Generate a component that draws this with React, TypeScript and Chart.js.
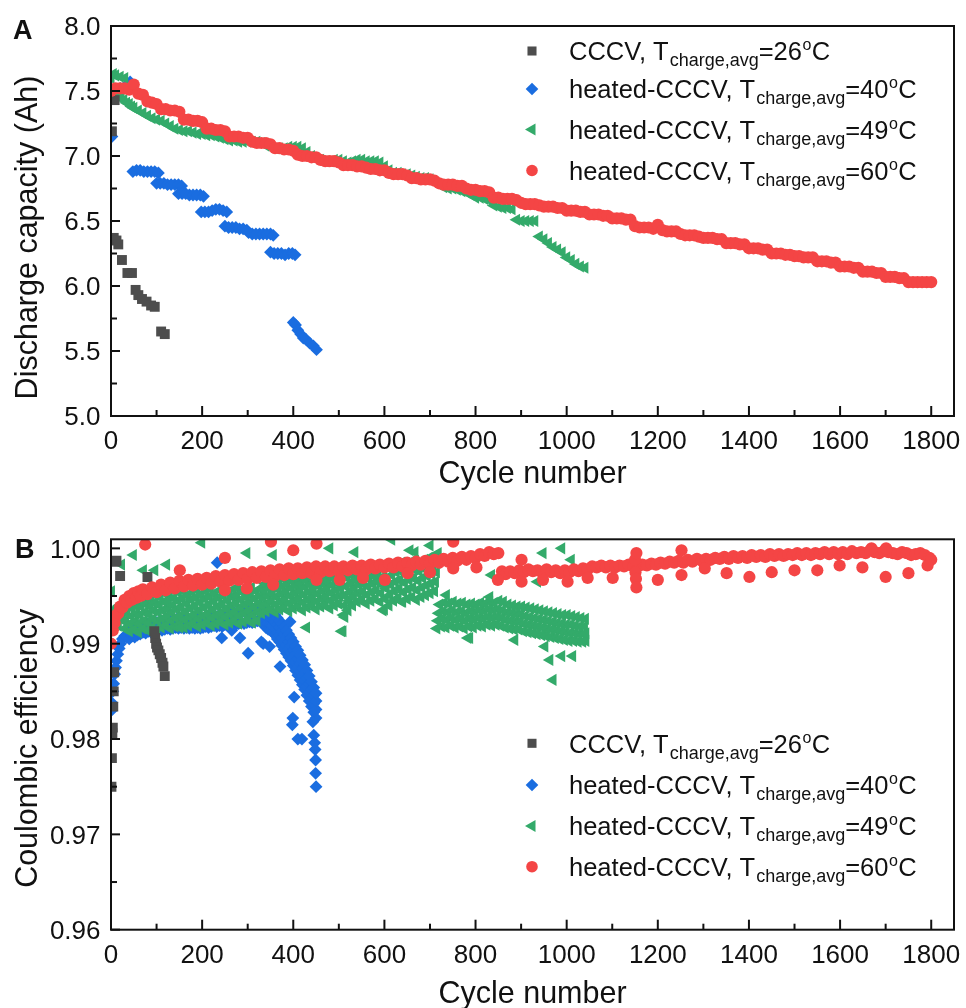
import React, { useEffect, useRef } from 'react';
import { Chart, registerables } from 'chart.js';

Chart.register(...registerables);

type Pt = [number, number];

const FONT = '"Liberation Sans", Arial, Helvetica, sans-serif';
const INK = '#111111';

// ---------- series meta ----------
const SERIES_COLORS = ['#4d4d4d', '#1a6de0', '#33aa6a', '#f44545'];
const SERIES_STYLES = ['rect', 'rectRot', 'triangle', 'circle'];
const SERIES_NAMES = ['CCCV, T', 'heated-CCCV, T', 'heated-CCCV, T', 'heated-CCCV, T'];
const SERIES_TEMPS = ['26', '40', '49', '60'];
const SUBSCRIPT = 'charge,avg';
const MARKER_R = [7, 6.4, 7, 6.1];
const LEGEND_R = [6.4, 6.3, 7, 5.8];
const MARKER_ROT = [0, 0, -90, 0];
const DRAW_ORDER = [1, 3, 2, 0];

// ---------- axes ----------
const cycleTicks = [0, 100, 200, 300, 400, 500, 600, 700, 800, 900, 1000, 1100, 1200, 1300, 1400, 1500, 1600, 1700, 1800];
const capTicks = [5, 5.25, 5.5, 5.75, 6, 6.25, 6.5, 6.75, 7, 7.25, 7.5, 7.75, 8];
const ceTicks = [0.96, 0.965, 0.97, 0.975, 0.98, 0.985, 0.99, 0.995, 1.0];
const X_TITLE = 'Cycle number';
const Y_TITLE_A = 'Discharge capacity (Ah)';
const Y_TITLE_B = 'Coulombic efficiency';

// ---------- Panel A: discharge capacity ----------
const capCCCV26: Pt[] = [
  [2, 7.19], [8, 7.43], [6, 6.37], [12, 6.35], [16, 6.32], [24, 6.20], [36, 6.10], [46, 6.10],
  [54, 5.97], [60, 5.93], [68, 5.90], [78, 5.88], [88, 5.85], [96, 5.84], [110, 5.65], [118, 5.63],
];

const capHeated40: Pt[] = [
  [0, 7.47], [2, 7.15], [20, 7.52], [35, 7.55], [42, 7.57],
  [48, 6.88], [56, 6.89], [64, 6.89], [72, 6.88], [80, 6.88], [88, 6.88], [96, 6.88], [104, 6.87],
  [100, 6.79], [108, 6.79], [116, 6.79], [124, 6.78], [132, 6.78], [140, 6.78], [148, 6.78], [155, 6.77],
  [148, 6.71], [156, 6.71], [164, 6.71], [172, 6.70], [180, 6.70], [188, 6.70], [196, 6.70], [203, 6.69],
  [198, 6.57], [206, 6.57], [214, 6.57], [222, 6.58], [230, 6.59], [238, 6.59], [246, 6.58], [254, 6.57],
  [250, 6.46], [258, 6.45], [266, 6.45], [274, 6.45], [282, 6.44], [290, 6.44], [298, 6.43],
  [302, 6.41], [310, 6.40], [318, 6.40], [326, 6.40], [334, 6.40], [342, 6.40], [350, 6.40], [356, 6.39],
  [350, 6.26], [358, 6.25], [366, 6.25], [374, 6.25], [382, 6.24], [390, 6.25], [398, 6.25], [404, 6.24],
  [400, 5.72], [405, 5.70], [410, 5.66], [416, 5.63], [422, 5.60], [428, 5.59], [436, 5.56], [444, 5.54], [451, 5.51],
];

const capHeated49: Pt[] = [
  [0, 7.60], [5, 7.63], [10, 7.62], [20, 7.61], [30, 7.60], [10, 7.50], [16, 7.47], [22, 7.45], [28, 7.43], [34, 7.41],
  [40, 7.40], [45, 7.38], [50, 7.37], [60, 7.35], [70, 7.33], [80, 7.31], [90, 7.29], [100, 7.28], [110, 7.27],
  [120, 7.25], [130, 7.23], [140, 7.21], [150, 7.20], [160, 7.19], [170, 7.19], [180, 7.18], [190, 7.17],
  [200, 7.17], [210, 7.16], [220, 7.16], [230, 7.15], [240, 7.14], [250, 7.13], [260, 7.12], [270, 7.12],
  [280, 7.11], [290, 7.11], [300, 7.11], [310, 7.11], [320, 7.11], [330, 7.10], [340, 7.08], [350, 7.07],
  [360, 7.06], [370, 7.06], [380, 7.06], [390, 7.07], [400, 7.07], [410, 7.07], [420, 7.06], [430, 7.03],
  [440, 7.00], [450, 6.98], [460, 6.97], [470, 6.96], [480, 6.96], [490, 6.97], [500, 6.97], [510, 6.96],
  [520, 6.95], [530, 6.96], [540, 6.97], [550, 6.97], [560, 6.96], [570, 6.96], [580, 6.96], [590, 6.95],
  [600, 6.92], [610, 6.89], [620, 6.87], [630, 6.87], [640, 6.86], [650, 6.86], [660, 6.85], [670, 6.84],
  [680, 6.83], [690, 6.83], [700, 6.82], [710, 6.80], [720, 6.78], [730, 6.76], [740, 6.75], [750, 6.75],
  [760, 6.74], [770, 6.73], [780, 6.72], [790, 6.70], [800, 6.68], [810, 6.68], [820, 6.67], [830, 6.66],
  [840, 6.62], [850, 6.61], [860, 6.60], [870, 6.60], [880, 6.59], [890, 6.51], [900, 6.50], [910, 6.50],
  [920, 6.50], [930, 6.50], [940, 6.38], [950, 6.36], [960, 6.33], [970, 6.30], [980, 6.28], [990, 6.26],
  [1000, 6.22], [1010, 6.20], [1020, 6.17], [1030, 6.15], [1040, 6.14],
];

const capHeated60: Pt[] = [
  [0, 7.50], [10, 7.52], [20, 7.52], [30, 7.52], [40, 7.51], [50, 7.55], [60, 7.48], [70, 7.47], [80, 7.42],
  [90, 7.41], [100, 7.40], [110, 7.36], [120, 7.36], [130, 7.35], [140, 7.35], [150, 7.34], [160, 7.28],
  [170, 7.28], [180, 7.27], [190, 7.27], [200, 7.26], [210, 7.21], [220, 7.21], [230, 7.20], [240, 7.20],
  [250, 7.19], [260, 7.15], [270, 7.15], [280, 7.15], [290, 7.14], [300, 7.14], [310, 7.11], [320, 7.10],
  [330, 7.10], [340, 7.10], [350, 7.09], [360, 7.06], [370, 7.06], [380, 7.05], [390, 7.05], [400, 7.04],
  [410, 7.01], [420, 7.00], [430, 7.00], [440, 6.99], [450, 6.99], [460, 6.97], [470, 6.96], [480, 6.96],
  [490, 6.96], [500, 6.95], [510, 6.93], [520, 6.93], [530, 6.93], [540, 6.92], [550, 6.92], [560, 6.91],
  [570, 6.90], [580, 6.90], [590, 6.89], [600, 6.89], [610, 6.87], [620, 6.86], [630, 6.86], [640, 6.86],
  [650, 6.85], [660, 6.83], [670, 6.83], [680, 6.82], [690, 6.82], [700, 6.82], [710, 6.81], [720, 6.79],
  [730, 6.78], [740, 6.78], [750, 6.78], [760, 6.77], [770, 6.77], [780, 6.75], [790, 6.74], [800, 6.74],
  [810, 6.73], [820, 6.73], [830, 6.72], [840, 6.68], [850, 6.68], [860, 6.67], [870, 6.67], [880, 6.67],
  [890, 6.66], [900, 6.64], [910, 6.63], [920, 6.63], [930, 6.63], [940, 6.62], [950, 6.61], [960, 6.61],
  [970, 6.61], [980, 6.60], [990, 6.60], [1000, 6.58], [1010, 6.58], [1020, 6.58], [1030, 6.57], [1040, 6.57],
  [1050, 6.55], [1060, 6.55], [1070, 6.55], [1080, 6.54], [1090, 6.54], [1100, 6.52], [1110, 6.52], [1120, 6.52],
  [1130, 6.51], [1140, 6.51], [1150, 6.46], [1160, 6.45], [1170, 6.45], [1180, 6.45], [1190, 6.44], [1200, 6.47],
  [1210, 6.43], [1220, 6.42], [1230, 6.42], [1240, 6.42], [1250, 6.40], [1260, 6.39], [1270, 6.39], [1280, 6.39],
  [1290, 6.38], [1300, 6.37], [1310, 6.37], [1320, 6.37], [1330, 6.36], [1340, 6.36], [1350, 6.33], [1360, 6.33],
  [1370, 6.33], [1380, 6.32], [1390, 6.32], [1400, 6.29], [1410, 6.29], [1420, 6.29], [1430, 6.28], [1440, 6.28],
  [1450, 6.25], [1460, 6.25], [1470, 6.25], [1480, 6.24], [1490, 6.24], [1500, 6.23], [1510, 6.23], [1520, 6.22],
  [1530, 6.22], [1540, 6.22], [1550, 6.19], [1560, 6.19], [1570, 6.19], [1580, 6.18], [1590, 6.18], [1600, 6.15],
  [1610, 6.15], [1620, 6.15], [1630, 6.14], [1640, 6.14], [1650, 6.11], [1660, 6.11], [1670, 6.11], [1680, 6.10],
  [1690, 6.10], [1700, 6.07], [1710, 6.07], [1720, 6.07], [1730, 6.06], [1740, 6.06], [1750, 6.03], [1760, 6.03],
  [1770, 6.03], [1780, 6.03], [1790, 6.03], [1800, 6.03],
];

// ---------- Panel B: coulombic efficiency ----------
const ceCCCV26: Pt[] = [
  [1, 0.9750], [2, 0.9780], [3, 0.9806], [4, 0.9812], [5, 0.9834], [6, 0.9850], [7, 0.9870],
  [9, 0.9986], [12, 0.9987], [20, 0.9971], [80, 0.9970],
  [95, 0.9913], [97, 0.9906], [99, 0.9900], [101, 0.9896], [104, 0.9893], [107, 0.9889], [110, 0.9885],
  [113, 0.9880], [115, 0.9876], [118, 0.9866],
];

const ceHeated40Band: Pt[] = [
  [1, 0.9830], [2, 0.9838], [4, 0.9850], [6, 0.9858], [8, 0.9868], [10, 0.9875], [12, 0.9882], [15, 0.9889],
  [18, 0.9895], [21, 0.9900], [25, 0.9905], [30, 0.9908],
  [34, 0.9907], [37, 0.9917], [40, 0.9905], [43, 0.9916], [46, 0.9908], [49, 0.9918], [52, 0.9907], [55, 0.9917],
  [58, 0.9909], [61, 0.9919], [64, 0.9910], [67, 0.9920], [70, 0.9912], [73, 0.9921], [76, 0.9911], [79, 0.9921],
  [82, 0.9913], [85, 0.9922], [88, 0.9912], [91, 0.9921], [94, 0.9914], [97, 0.9923], [100, 0.9913], [103, 0.9922],
  [106, 0.9915], [109, 0.9924], [112, 0.9914], [115, 0.9923], [118, 0.9915], [121, 0.9924], [124, 0.9916], [127, 0.9925],
  [130, 0.9915], [133, 0.9924], [136, 0.9916], [139, 0.9925], [142, 0.9917], [145, 0.9926], [148, 0.9916], [151, 0.9925],
  [154, 0.9917], [157, 0.9926], [160, 0.9916], [163, 0.9925], [166, 0.9917], [169, 0.9926], [172, 0.9916], [175, 0.9925],
  [178, 0.9917], [181, 0.9926], [184, 0.9916], [187, 0.9926], [190, 0.9917], [193, 0.9927], [196, 0.9916], [199, 0.9926],
  [202, 0.9917], [205, 0.9927], [208, 0.9918], [211, 0.9928], [214, 0.9917], [217, 0.9927], [220, 0.9918], [223, 0.9928],
  [226, 0.9919], [229, 0.9929], [232, 0.9918], [235, 0.9929], [238, 0.9919], [241, 0.9930], [244, 0.9918], [247, 0.9930],
  [250, 0.9920], [253, 0.9931], [256, 0.9919], [259, 0.9931], [262, 0.9920], [265, 0.9932], [268, 0.9921], [271, 0.9932],
  [274, 0.9920], [277, 0.9933], [280, 0.9921], [283, 0.9933], [286, 0.9922], [289, 0.9934], [292, 0.9921], [295, 0.9934],
  [298, 0.9922], [301, 0.9935], [304, 0.9923], [307, 0.9935], [310, 0.9922], [313, 0.9936], [316, 0.9923], [319, 0.9937],
  [322, 0.9924], [325, 0.9938], [328, 0.9923], [331, 0.9938], [334, 0.9922], [337, 0.9937],
];

const ceHeated40Fall: Pt[] = [
  [340, 0.9917], [340, 0.9923], [340, 0.9930], [340, 0.9936], [345, 0.9915], [345, 0.9922], [345, 0.9928], [345, 0.9935],
  [350, 0.9914], [350, 0.9920], [350, 0.9927], [350, 0.9933], [355, 0.9912], [355, 0.9919], [355, 0.9925], [355, 0.9932],
  [360, 0.9909], [360, 0.9916], [360, 0.9923], [360, 0.9930], [365, 0.9905], [365, 0.9912], [365, 0.9920], [365, 0.9927],
  [370, 0.9902], [370, 0.9909], [370, 0.9917], [370, 0.9924], [375, 0.9898], [375, 0.9906], [375, 0.9913], [375, 0.9921],
  [380, 0.9894], [380, 0.9902], [380, 0.9910], [380, 0.9918], [385, 0.9890], [385, 0.9898], [385, 0.9906], [385, 0.9914],
  [390, 0.9886], [390, 0.9894], [390, 0.9902], [390, 0.9910], [395, 0.9882], [395, 0.9890], [395, 0.9898], [395, 0.9906],
  [400, 0.9877], [400, 0.9885], [400, 0.9893], [400, 0.9902], [405, 0.9872], [405, 0.9880], [405, 0.9889], [405, 0.9897],
  [410, 0.9867], [410, 0.9875], [410, 0.9884], [410, 0.9893], [415, 0.9862], [415, 0.9871], [415, 0.9879], [415, 0.9888],
  [420, 0.9857], [420, 0.9866], [420, 0.9874], [420, 0.9883], [425, 0.9852], [425, 0.9861], [425, 0.9869], [425, 0.9878],
  [430, 0.9846], [430, 0.9855], [430, 0.9864], [430, 0.9872], [435, 0.9840], [435, 0.9849], [435, 0.9858], [435, 0.9866],
  [440, 0.9834], [440, 0.9843], [440, 0.9852], [440, 0.9860], [445, 0.9828], [445, 0.9837], [445, 0.9846], [445, 0.9854],
  [450, 0.9822], [450, 0.9831], [450, 0.9840], [450, 0.9848],
];

const ceHeated40Scatter: Pt[] = [
  [233, 0.9985], [254, 0.9970], [243, 0.9906], [265, 0.9914], [283, 0.9906], [301, 0.9890], [330, 0.9902],
  [334, 0.9900], [348, 0.9897], [371, 0.9876], [393, 0.9923], [402, 0.9844], [399, 0.9822], [398, 0.9815],
  [410, 0.9800], [419, 0.9800], [443, 0.9818], [445, 0.9804], [447, 0.9796], [448, 0.9789], [449, 0.9778],
  [449, 0.9764], [450, 0.9750],
];

const ceHeated49Early: Pt[] = [
  [1, 0.9955], [3, 0.9935], [5, 0.9922], [8, 0.9928], [12, 0.9935], [16, 0.9919], [18, 0.9940], [24, 0.9925],
  [30, 0.9916], [32, 0.9924], [34, 0.9932], [36, 0.9940], [38, 0.9947],
  [40, 0.9913], [42, 0.9921], [44, 0.9929], [46, 0.9937], [48, 0.9944],
  [50, 0.9915], [52, 0.9923], [54, 0.9931], [56, 0.9939], [58, 0.9947],
  [60, 0.9912], [62, 0.9921], [64, 0.9930], [66, 0.9939], [68, 0.9948],
  [70, 0.9916], [72, 0.9924], [74, 0.9933], [76, 0.9942], [78, 0.9950],
  [80, 0.9914], [82, 0.9922], [84, 0.9931], [86, 0.9939], [88, 0.9947],
  [90, 0.9917], [92, 0.9926], [94, 0.9935], [96, 0.9943], [98, 0.9951],
  [100, 0.9915], [102, 0.9924], [104, 0.9933], [106, 0.9941], [108, 0.9949],
  [110, 0.9917], [112, 0.9926], [114, 0.9935], [116, 0.9944], [118, 0.9953],
  [120, 0.9919], [122, 0.9928], [124, 0.9936], [126, 0.9944], [128, 0.9952],
  [130, 0.9916], [132, 0.9924], [134, 0.9932], [136, 0.9940], [138, 0.9948],
  [140, 0.9918], [142, 0.9927], [144, 0.9936], [146, 0.9945], [148, 0.9954],
  [150, 0.9920], [152, 0.9929], [154, 0.9938], [156, 0.9947], [158, 0.9955],
  [160, 0.9917], [162, 0.9925], [164, 0.9933], [166, 0.9942], [168, 0.9950],
  [170, 0.9919], [172, 0.9928], [174, 0.9937], [176, 0.9946], [178, 0.9954],
  [180, 0.9921], [182, 0.9930], [184, 0.9939], [186, 0.9948], [188, 0.9956],
  [190, 0.9918], [192, 0.9926], [194, 0.9934], [196, 0.9943], [198, 0.9951],
  [200, 0.9920], [202, 0.9929], [204, 0.9938], [206, 0.9947], [208, 0.9955],
  [210, 0.9922], [212, 0.9931], [214, 0.9940], [216, 0.9949], [218, 0.9957],
  [220, 0.9919], [222, 0.9927], [224, 0.9935], [226, 0.9944], [228, 0.9952],
  [230, 0.9921], [232, 0.9930], [234, 0.9939], [236, 0.9948], [238, 0.9956],
  [240, 0.9923], [242, 0.9932], [244, 0.9941], [246, 0.9950], [248, 0.9958],
  [250, 0.9920], [252, 0.9928], [254, 0.9936], [256, 0.9945], [258, 0.9953],
  [260, 0.9922], [262, 0.9931], [264, 0.9940], [266, 0.9949], [268, 0.9957],
  [270, 0.9924], [272, 0.9933], [274, 0.9942], [276, 0.9950], [278, 0.9958],
  [280, 0.9921], [282, 0.9929], [284, 0.9937], [286, 0.9946], [288, 0.9954],
  [290, 0.9923], [292, 0.9932], [294, 0.9941], [296, 0.9949], [298, 0.9957],
  [300, 0.9925], [302, 0.9934], [304, 0.9943], [306, 0.9951], [308, 0.9959],
  [310, 0.9922], [312, 0.9930], [314, 0.9938], [316, 0.9947], [318, 0.9955],
  [320, 0.9924], [322, 0.9933], [324, 0.9942], [326, 0.9950], [328, 0.9958],
];

const ceHeated49Mid: Pt[] = [
  [330, 0.9932], [332, 0.9940], [334, 0.9948], [336, 0.9956], [338, 0.9963],
  [340, 0.9934], [342, 0.9942], [344, 0.9950], [346, 0.9958], [348, 0.9965],
  [350, 0.9936], [352, 0.9944], [354, 0.9952], [356, 0.9960], [358, 0.9967],
  [360, 0.9933], [362, 0.9941], [364, 0.9949], [366, 0.9957], [368, 0.9964],
  [370, 0.9936], [372, 0.9944], [374, 0.9952], [376, 0.9960], [378, 0.9968],
  [380, 0.9938], [382, 0.9946], [384, 0.9954], [386, 0.9962], [388, 0.9969],
  [390, 0.9934], [392, 0.9942], [394, 0.9950], [396, 0.9958], [398, 0.9965],
  [400, 0.9937], [402, 0.9945], [404, 0.9953], [406, 0.9961], [408, 0.9968],
  [410, 0.9939], [412, 0.9947], [414, 0.9955], [416, 0.9963], [418, 0.9970],
  [420, 0.9935], [422, 0.9943], [424, 0.9951], [426, 0.9959], [428, 0.9966],
  [430, 0.9938], [432, 0.9946], [434, 0.9954], [436, 0.9962], [438, 0.9969],
  [440, 0.9940], [442, 0.9948], [444, 0.9956], [446, 0.9964], [448, 0.9971],
  [450, 0.9936], [452, 0.9944], [454, 0.9952], [456, 0.9960], [458, 0.9967],
  [460, 0.9939], [462, 0.9947], [464, 0.9955], [466, 0.9963], [468, 0.9970],
  [470, 0.9941], [472, 0.9949], [474, 0.9957], [476, 0.9965], [478, 0.9972],
  [480, 0.9937], [482, 0.9945], [484, 0.9953], [486, 0.9961], [488, 0.9968],
  [490, 0.9940], [492, 0.9948], [494, 0.9956], [496, 0.9964], [498, 0.9971],
  [500, 0.9942], [502, 0.9950], [504, 0.9958], [506, 0.9966], [508, 0.9973],
  [510, 0.9930], [512, 0.9940], [514, 0.9950], [516, 0.9960], [518, 0.9969],
  [520, 0.9935], [522, 0.9945], [524, 0.9954], [526, 0.9963], [528, 0.9972],
  [530, 0.9940], [532, 0.9949], [534, 0.9958], [536, 0.9967], [538, 0.9975],
  [540, 0.9944], [542, 0.9953], [544, 0.9962], [546, 0.9970], [548, 0.9977],
  [550, 0.9946], [552, 0.9955], [554, 0.9964], [556, 0.9972], [558, 0.9979],
  [560, 0.9942], [562, 0.9951], [564, 0.9960], [566, 0.9968], [568, 0.9976],
  [570, 0.9945], [572, 0.9954], [574, 0.9963], [576, 0.9971], [578, 0.9979],
  [580, 0.9947], [582, 0.9956], [584, 0.9965], [586, 0.9973], [588, 0.9981],
  [590, 0.9944], [592, 0.9953], [594, 0.9962], [596, 0.9970], [598, 0.9978],
  [600, 0.9936], [602, 0.9947], [604, 0.9958], [606, 0.9969], [608, 0.9980],
  [610, 0.9940], [612, 0.9951], [614, 0.9962], [616, 0.9972], [618, 0.9982],
  [620, 0.9945], [622, 0.9955], [624, 0.9965], [626, 0.9975], [628, 0.9984],
  [630, 0.9948], [632, 0.9958], [634, 0.9967], [636, 0.9976], [638, 0.9985],
  [640, 0.9944], [642, 0.9954], [644, 0.9964], [646, 0.9974], [648, 0.9983],
  [650, 0.9947], [652, 0.9957], [654, 0.9967], [656, 0.9977], [658, 0.9986],
  [660, 0.9949], [662, 0.9959], [664, 0.9969], [666, 0.9978], [668, 0.9987],
  [670, 0.9946], [672, 0.9956], [674, 0.9966], [676, 0.9976], [678, 0.9985],
  [680, 0.9949], [682, 0.9959], [684, 0.9969], [686, 0.9979], [688, 0.9988],
  [690, 0.9951], [692, 0.9961], [694, 0.9971], [696, 0.9981], [698, 0.9990],
  [700, 0.9953], [702, 0.9963], [704, 0.9973], [706, 0.9983], [708, 0.9992],
  [710, 0.9955], [712, 0.9965], [714, 0.9975], [716, 0.9985], [718, 0.9995],
];

const ceHeated49Late: Pt[] = [
  [715, 0.9916], [717, 0.9924], [719, 0.9932], [721, 0.9941], [725, 0.9918], [727, 0.9926], [729, 0.9934], [731, 0.9943],
  [735, 0.9917], [737, 0.9925], [739, 0.9933], [741, 0.9942], [745, 0.9919], [747, 0.9927], [749, 0.9935], [751, 0.9944],
  [755, 0.9917], [757, 0.9925], [759, 0.9933], [761, 0.9942], [765, 0.9918], [767, 0.9926], [769, 0.9934], [771, 0.9943],
  [775, 0.9916], [777, 0.9924], [779, 0.9932], [781, 0.9941], [785, 0.9918], [787, 0.9926], [789, 0.9934], [791, 0.9942],
  [795, 0.9917], [797, 0.9925], [799, 0.9933], [801, 0.9941], [805, 0.9919], [807, 0.9927], [809, 0.9935], [811, 0.9943],
  [815, 0.9918], [817, 0.9926], [819, 0.9934], [821, 0.9942], [825, 0.9920], [827, 0.9928], [829, 0.9936], [831, 0.9944],
  [835, 0.9919], [837, 0.9927], [839, 0.9935], [841, 0.9943], [845, 0.9920], [847, 0.9928], [849, 0.9936], [851, 0.9945],
  [855, 0.9919], [857, 0.9927], [859, 0.9935], [861, 0.9944], [865, 0.9917], [867, 0.9925], [869, 0.9933], [871, 0.9941],
  [875, 0.9916], [877, 0.9924], [879, 0.9932], [881, 0.9940], [885, 0.9915], [887, 0.9923], [889, 0.9931], [891, 0.9939],
  [895, 0.9915], [897, 0.9923], [899, 0.9931], [901, 0.9939], [905, 0.9913], [907, 0.9921], [909, 0.9929], [911, 0.9938],
  [915, 0.9912], [917, 0.9920], [919, 0.9928], [921, 0.9937], [925, 0.9911], [927, 0.9919], [929, 0.9927], [931, 0.9936],
  [935, 0.9910], [937, 0.9918], [939, 0.9926], [941, 0.9935], [945, 0.9909], [947, 0.9917], [949, 0.9925], [951, 0.9934],
  [955, 0.9908], [957, 0.9916], [959, 0.9924], [961, 0.9933], [965, 0.9907], [967, 0.9915], [969, 0.9923], [971, 0.9932],
  [975, 0.9906], [977, 0.9914], [979, 0.9922], [981, 0.9931], [985, 0.9905], [987, 0.9913], [989, 0.9921], [991, 0.9930],
  [995, 0.9904], [997, 0.9912], [999, 0.9920], [1001, 0.9930], [1005, 0.9903], [1007, 0.9911], [1009, 0.9920], [1011, 0.9929],
  [1015, 0.9903], [1017, 0.9911], [1019, 0.9919], [1021, 0.9928], [1025, 0.9902], [1027, 0.9910], [1029, 0.9918], [1031, 0.9927],
  [1035, 0.9902], [1037, 0.9910], [1039, 0.9918], [1041, 0.9926], [1042, 0.9903], [1042, 0.9911],
];

const ceHeated49Scatter: Pt[] = [
  [23, 0.9983], [49, 0.9993], [71, 0.9977], [96, 0.9977], [122, 0.9983], [151, 0.9917], [199, 1.0006],
  [298, 0.9995], [356, 0.9993], [429, 0.9917], [480, 1.0000], [506, 0.9913], [509, 0.9913], [513, 0.9928],
  [535, 0.9996], [597, 0.9935], [616, 1.0009], [638, 0.9944], [656, 0.9998], [667, 0.9996], [700, 1.0003],
  [736, 0.9951], [783, 0.9906], [787, 0.9906], [831, 0.9949], [835, 0.9972], [886, 0.9904], [936, 0.9965],
  [948, 0.9995], [952, 0.9897], [963, 0.9883], [970, 0.9862], [989, 0.9887], [989, 1.0000], [1013, 0.9887],
  [1010, 0.9988],
];

const ceHeated60Band: Pt[] = [
  [0, 0.9900], [4, 0.9914], [8, 0.9922], [12, 0.9930], [16, 0.9932], [20, 0.9939], [25, 0.9938], [30, 0.9946],
  [35, 0.9943], [40, 0.9950], [45, 0.9946], [50, 0.9953], [55, 0.9948], [60, 0.9955], [65, 0.9950], [70, 0.9957],
  [80, 0.9952], [90, 0.9959], [100, 0.9954], [110, 0.9962], [120, 0.9956], [130, 0.9964], [140, 0.9958],
  [150, 0.9966], [160, 0.9960], [170, 0.9967], [180, 0.9961], [190, 0.9968], [200, 0.9962], [210, 0.9969],
  [220, 0.9963], [230, 0.9971], [240, 0.9965], [250, 0.9972], [260, 0.9966], [270, 0.9973], [280, 0.9967],
  [290, 0.9974], [300, 0.9968], [310, 0.9975], [320, 0.9969], [330, 0.9976], [340, 0.9970], [350, 0.9977],
  [360, 0.9971], [370, 0.9978], [380, 0.9972], [390, 0.9979], [400, 0.9973], [410, 0.9979], [420, 0.9974],
  [430, 0.9980], [440, 0.9974], [450, 0.9981], [460, 0.9975], [470, 0.9981], [480, 0.9976], [490, 0.9981],
  [500, 0.9976], [510, 0.9981], [520, 0.9977], [530, 0.9982], [540, 0.9978], [550, 0.9982], [560, 0.9978],
  [570, 0.9983], [580, 0.9979], [590, 0.9983], [600, 0.9980], [610, 0.9984], [620, 0.9980], [630, 0.9985],
  [640, 0.9981], [650, 0.9985], [660, 0.9982], [670, 0.9986], [680, 0.9983], [690, 0.9987], [700, 0.9984],
  [710, 0.9988], [720, 0.9985], [730, 0.9989], [740, 0.9986], [750, 0.9990], [760, 0.9987], [770, 0.9991],
  [780, 0.9988], [790, 0.9992], [800, 0.9990], [810, 0.9994], [820, 0.9992], [830, 0.9996], [840, 0.9994],
  [850, 0.9995],
  [858, 0.9976], [866, 0.9973], [876, 0.9976], [886, 0.9974], [896, 0.9977], [906, 0.9975], [916, 0.9978],
  [926, 0.9976], [936, 0.9977], [946, 0.9975], [956, 0.9978], [966, 0.9975], [976, 0.9977], [986, 0.9974],
  [996, 0.9977], [1006, 0.9975], [1016, 0.9978], [1026, 0.9976], [1036, 0.9979], [1046, 0.9978], [1056, 0.9981],
  [1066, 0.9980], [1076, 0.9982], [1086, 0.9980], [1096, 0.9982], [1106, 0.9980], [1116, 0.9982], [1126, 0.9981],
  [1136, 0.9983], [1146, 0.9981], [1156, 0.9981], [1166, 0.9983], [1176, 0.9982], [1186, 0.9984], [1196, 0.9983],
  [1206, 0.9985], [1216, 0.9984], [1226, 0.9986], [1236, 0.9985], [1246, 0.9987], [1256, 0.9985], [1266, 0.9988],
  [1276, 0.9986], [1286, 0.9989], [1296, 0.9987], [1306, 0.9989], [1316, 0.9988], [1326, 0.9990], [1336, 0.9989],
  [1346, 0.9991], [1356, 0.9989], [1366, 0.9992], [1376, 0.9990], [1386, 0.9992], [1396, 0.9990], [1406, 0.9993],
  [1416, 0.9991], [1426, 0.9993], [1436, 0.9991], [1446, 0.9994], [1456, 0.9992], [1466, 0.9994], [1476, 0.9992],
  [1486, 0.9994], [1496, 0.9993], [1506, 0.9995], [1516, 0.9993], [1526, 0.9995], [1536, 0.9993], [1546, 0.9995],
  [1556, 0.9994], [1566, 0.9996], [1576, 0.9994], [1586, 0.9996], [1596, 0.9994], [1606, 0.9996], [1616, 0.9994],
  [1626, 0.9997], [1636, 0.9995], [1646, 0.9996], [1656, 0.9995], [1666, 0.9998], [1676, 0.9996], [1686, 0.9995],
  [1696, 0.9997], [1706, 0.9996], [1716, 0.9995], [1726, 0.9994], [1736, 0.9996], [1746, 0.9995], [1756, 0.9993],
  [1766, 0.9994], [1776, 0.9995], [1786, 0.9993], [1796, 0.9990], [1800, 0.9988],
];

const ceHeated60Spikes: Pt[] = [
  [250, 0.9956], [298, 0.9958], [356, 0.9962], [451, 0.9967], [502, 0.9967], [553, 0.9969], [601, 0.9967],
  [651, 0.9974], [700, 0.9975], [751, 0.9979], [802, 0.9980], [849, 0.9967], [901, 0.9965], [948, 0.9967],
  [1002, 0.9965], [1046, 0.9969], [1101, 0.9969], [1150, 0.9988], [1151, 0.9975], [1152, 0.9968], [1153, 0.9959],
  [1200, 0.9967], [1252, 0.9972], [1303, 0.9979], [1351, 0.9974], [1401, 0.9970], [1450, 0.9975], [1500, 0.9977],
  [1550, 0.9977], [1599, 0.9982], [1649, 0.9980], [1700, 0.9970], [1750, 0.9974], [1792, 0.9982],
  [75, 1.0004], [151, 0.9977], [250, 0.9990], [351, 1.0007], [400, 0.9998], [451, 1.0005], [751, 1.0007],
  [901, 0.9988], [1153, 0.9995], [1252, 0.9998], [1669, 1.0000], [1701, 1.0000],
];

// ---------- panel layout ----------
type Panel = {
  height: number;
  padTop: number;
  xAxisHeight: number;
  yMin: number;
  yMax: number;
  yTicks: number[];
  yDigits: number;
  yTitle: string;
  yTitleCenter: number;
  xTitleBase: number;
  letter: string;
  letterX: number;
  letterBase: number;
  legendRows: number[];
  series: Pt[][];
};

const PANEL_A: Panel = {
  height: 500,
  padTop: 26,
  xAxisHeight: 84,
  yMin: 5,
  yMax: 8,
  yTicks: capTicks,
  yDigits: 1,
  yTitle: Y_TITLE_A,
  yTitleCenter: 237.5,
  xTitleBase: 483,
  letter: 'A',
  letterX: 13,
  letterBase: 39,
  legendRows: [51, 89, 129.5, 170.5],
  series: [capCCCV26, capHeated40, capHeated49, capHeated60],
};

const PANEL_B: Panel = {
  height: 508,
  padTop: 39.3,
  xAxisHeight: 78.3,
  yMin: 0.96,
  yMax: 1.00095,
  yTicks: ceTicks,
  yDigits: 2,
  yTitle: Y_TITLE_B,
  yTitleCenter: 248.3,
  xTitleBase: 503,
  letter: 'B',
  letterX: 15,
  letterBase: 58,
  legendRows: [243.3, 285, 326, 366.7],
  series: [
    ceCCCV26,
    [...ceHeated40Band, ...ceHeated40Fall, ...ceHeated40Scatter],
    [...ceHeated49Early, ...ceHeated49Mid, ...ceHeated49Late, ...ceHeated49Scatter],
    [...ceHeated60Band, ...ceHeated60Spikes],
  ],
};

function drawShape(ctx: CanvasRenderingContext2D, style: string, x: number, y: number, r: number, color: string) {
  ctx.fillStyle = color;
  ctx.beginPath();
  if (style === 'rect') {
    const h = r * Math.SQRT1_2;
    ctx.rect(x - h, y - h, 2 * h, 2 * h);
  } else if (style === 'rectRot') {
    ctx.moveTo(x - r, y);
    ctx.lineTo(x, y - r);
    ctx.lineTo(x + r, y);
    ctx.lineTo(x, y + r);
    ctx.closePath();
  } else if (style === 'triangle') {
    ctx.moveTo(x - r, y);
    ctx.lineTo(x + 0.5 * r, y - 0.866 * r);
    ctx.lineTo(x + 0.5 * r, y + 0.866 * r);
    ctx.closePath();
  } else {
    ctx.arc(x, y, r, 0, Math.PI * 2);
  }
  ctx.fill();
}

function decorPlugin(P: Panel) {
  return {
    id: 'decor',
    afterDraw(chart: any) {
      const ctx: CanvasRenderingContext2D = chart.ctx;
      const { left, right, top, bottom } = chart.chartArea;
      const xs = chart.scales.x;
      const ys = chart.scales.y;
      ctx.save();
      ctx.strokeStyle = INK;
      ctx.fillStyle = INK;
      ctx.lineWidth = 2;
      ctx.strokeRect(left, top, right - left, bottom - top);

      // x ticks (inward) and labels
      ctx.font = `26px ${FONT}`;
      ctx.textAlign = 'center';
      ctx.textBaseline = 'alphabetic';
      for (const t of xs.ticks) {
        const px = xs.getPixelForValue(t.value);
        ctx.beginPath();
        ctx.moveTo(px, bottom);
        ctx.lineTo(px, bottom - (t.major ? 10 : 6));
        ctx.stroke();
        if (t.major) ctx.fillText(String(t.value), px, bottom + 33);
      }
      // y ticks (inward) and labels
      ctx.textAlign = 'right';
      for (const t of ys.ticks) {
        const py = ys.getPixelForValue(t.value);
        ctx.beginPath();
        ctx.moveTo(left, py);
        ctx.lineTo(left + (t.major ? 9 : 6), py);
        ctx.stroke();
        if (t.major) ctx.fillText(Number(t.value).toFixed(P.yDigits), left - 10.5, py + 9.2);
      }

      // axis titles
      ctx.font = `30.5px ${FONT}`;
      ctx.textAlign = 'center';
      ctx.fillText(X_TITLE, (left + right) / 2, P.xTitleBase);
      ctx.save();
      ctx.translate(36.5, P.yTitleCenter);
      ctx.rotate(-Math.PI / 2);
      ctx.fillText(P.yTitle, 0, 0);
      ctx.restore();

      // panel letter
      ctx.font = `bold 27px ${FONT}`;
      ctx.textAlign = 'left';
      ctx.fillText(P.letter, P.letterX, P.letterBase);

      // legend
      P.legendRows.forEach((y, i) => {
        drawShape(ctx, SERIES_STYLES[i], 532, y, LEGEND_R[i], SERIES_COLORS[i]);
        ctx.fillStyle = INK;
        ctx.textAlign = 'left';
        const base = y + 9.2;
        let x = 569;
        ctx.font = `25.5px ${FONT}`;
        ctx.fillText(SERIES_NAMES[i], x, base);
        x += ctx.measureText(SERIES_NAMES[i]).width + 1;
        ctx.font = `18px ${FONT}`;
        ctx.fillText(SUBSCRIPT, x, base + 6);
        x += ctx.measureText(SUBSCRIPT).width;
        ctx.font = `25.5px ${FONT}`;
        const eq = '=' + SERIES_TEMPS[i];
        ctx.fillText(eq, x, base);
        x += ctx.measureText(eq).width + 0.5;
        ctx.font = `16px ${FONT}`;
        ctx.fillText('o', x, base - 10);
        x += ctx.measureText('o').width + 0.5;
        ctx.font = `25.5px ${FONT}`;
        ctx.fillText('C', x, base);
      });
      ctx.restore();
    },
  };
}

function buildConfig(P: Panel): any {
  return {
    type: 'scatter',
    data: {
      datasets: P.series.map((data, i) => ({
        label: SERIES_NAMES[i] + SERIES_TEMPS[i],
        data,
        showLine: false,
        pointStyle: SERIES_STYLES[i],
        pointRadius: MARKER_R[i],
        pointHoverRadius: MARKER_R[i],
        pointRotation: MARKER_ROT[i],
        pointBackgroundColor: SERIES_COLORS[i],
        backgroundColor: SERIES_COLORS[i],
        borderColor: SERIES_COLORS[i],
        pointBorderWidth: 0,
        borderWidth: 0,
        order: DRAW_ORDER[i],
        clip: 0,
      })),
    },
    options: {
      responsive: false,
      animation: false,
      devicePixelRatio: 1,
      events: [],
      layout: { padding: { left: 0, right: 12, top: P.padTop, bottom: 0 } },
      plugins: { legend: { display: false }, tooltip: { enabled: false } },
      scales: {
        x: {
          type: 'linear',
          position: 'bottom',
          min: 0,
          max: 1850,
          grid: { display: false },
          border: { display: false },
          ticks: { display: false },
          afterBuildTicks: (s: any) => {
            s.ticks = cycleTicks.map((v, i) => ({ value: v, major: i % 2 === 0 }));
          },
          afterFit: (s: any) => {
            s.height = P.xAxisHeight;
          },
        },
        y: {
          type: 'linear',
          position: 'left',
          min: P.yMin,
          max: P.yMax,
          grid: { display: false },
          border: { display: false },
          ticks: { display: false },
          afterBuildTicks: (s: any) => {
            s.ticks = P.yTicks.map((v, i) => ({ value: v, major: i % 2 === 0 }));
          },
          afterFit: (s: any) => {
            s.width = 111;
          },
        },
      },
    },
    plugins: [decorPlugin(P)],
  };
}

export default function App() {
  const refA = useRef<HTMLCanvasElement>(null);
  const refB = useRef<HTMLCanvasElement>(null);
  useEffect(() => {
    const a = new Chart(refA.current as HTMLCanvasElement, buildConfig(PANEL_A));
    const b = new Chart(refB.current as HTMLCanvasElement, buildConfig(PANEL_B));
    return () => {
      a.destroy();
      b.destroy();
    };
  }, []);
  return (
    <div style={{ position: 'absolute', left: 0, top: 0, width: 966, height: 1008, background: '#ffffff' }}>
      <canvas
        ref={refA}
        width={966}
        height={PANEL_A.height}
        style={{ position: 'absolute', left: 0, top: 0, width: 966, height: PANEL_A.height }}
      />
      <canvas
        ref={refB}
        width={966}
        height={PANEL_B.height}
        style={{ position: 'absolute', left: 0, top: 500, width: 966, height: PANEL_B.height }}
      />
    </div>
  );
}
